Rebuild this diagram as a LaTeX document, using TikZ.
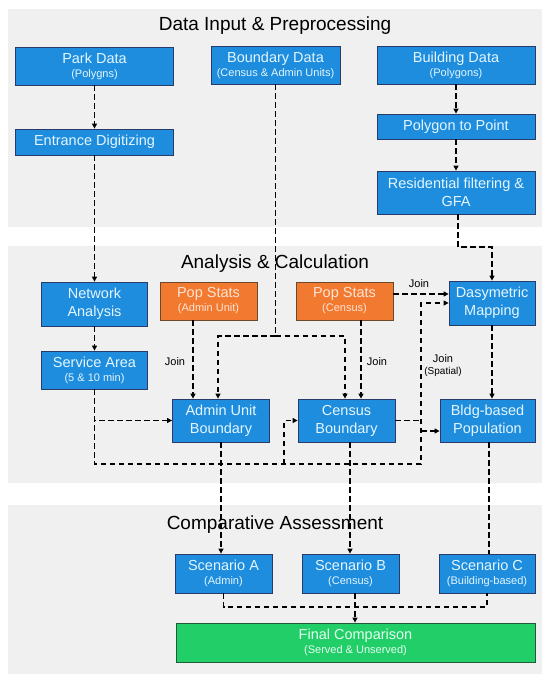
\documentclass[tikz,border=0pt]{standalone}
\usepackage{fontspec}
\setmainfont{Liberation Sans}
\usetikzlibrary{arrows.meta}
\definecolor{panelgray}{HTML}{F0F0F0}
\definecolor{boxblue}{HTML}{1E8DDE}
\definecolor{bluebd}{HTML}{2A3B6B}
\definecolor{bluetxt}{HTML}{E4F6FF}
\definecolor{boxorange}{HTML}{F27A30}
\definecolor{orangebd}{HTML}{6B4A2A}
\definecolor{orangetxt}{HTML}{FFE4D4}
\definecolor{boxgreen}{HTML}{22CE68}
\definecolor{greenbd}{HTML}{1F5A3A}
\definecolor{greentxt}{HTML}{E4FFF0}
\newcommand{\subt}[1]{{\fontsize{11}{12}\selectfont #1}}
\begin{document}
\begin{tikzpicture}[x=1pt,y=-1pt,
  panel/.style={fill=panelgray, draw=none},
  bbox/.style={draw=bluebd, fill=boxblue, line width=0.8pt, text=bluetxt, align=center, inner sep=0pt, font=\fontsize{14.5}{18}\selectfont},
  obox/.style={bbox, draw=orangebd, fill=boxorange, text=orangetxt},
  gbox/.style={bbox, draw=greenbd, fill=boxgreen, text=greentxt},
  dl/.style={draw=black, line width=1.6pt, dash pattern=on 5.5pt off 3.5pt},
  arr/.style={dl, -{Triangle[length=5pt,width=5pt]}},
  ttl/.style={font=\fontsize{19}{22}\selectfont, text=black, inner sep=0pt},
  lbl/.style={font=\fontsize{11}{13}\selectfont, text=black, inner sep=0pt, align=center}
]
\useasboundingbox (0,0) rectangle (550,683);
\fill[white] (0,0) rectangle (550,683);

% panels
\fill[panel] (8,9) rectangle (542,227);
\fill[panel] (8,246) rectangle (542,483);
\fill[panel] (8,505) rectangle (542,674);

% titles
\node[ttl] (t1) at (275,26) {Data Input \& Preprocessing};
\node[ttl] (t2) at (275,263.5) {Analysis \& Calculation};
\node[ttl] (t3) at (275,524.5) {Comparative Assessment};

% panel 1 boxes
\node[bbox, minimum width=158pt, minimum height=38pt] (park) at (94.5,66) {Park Data\\[-4pt]\subt{(Polygns)}};
\node[bbox, minimum width=129pt, minimum height=38pt] (bound) at (275.5,65) {Boundary Data\\[-4pt]\subt{(Census \& Admin Units)}};
\node[bbox, minimum width=158pt, minimum height=38pt] (bldg) at (456,65) {Building Data\\[-4pt]\subt{(Polygons)}};
\node[bbox, minimum width=158pt, minimum height=26pt] (entr) at (94.5,142) {Entrance Digitizing};
\node[bbox, minimum width=158pt, minimum height=25pt] (p2p) at (456,126.5) {Polygon to Point};
\node[bbox, minimum width=158pt, minimum height=43pt] (resid) at (456,192.5) {Residential filtering \&\\GFA};

% panel 2 boxes
\node[bbox, minimum width=106pt, minimum height=44pt] (net) at (94.5,304) {Network\\Analysis};
\node[obox, minimum width=97pt, minimum height=38pt] (psa) at (208.5,301) {Pop Stats\\[-4pt]\subt{(Admin Unit)}};
\node[obox, minimum width=97pt, minimum height=38pt] (psc) at (344.5,301) {Pop Stats\\[-4pt]\subt{(Census)}};
\node[bbox, minimum width=86pt, minimum height=44pt] (dasy) at (492,303) {Dasymetric\\Mapping};
\node[bbox, minimum width=106pt, minimum height=38pt] (serv) at (94.5,370) {Service Area\\[-4pt]\subt{(5 \& 10 min)}};
\node[bbox, minimum width=97pt, minimum height=43pt] (admin) at (221,420.5) {Admin Unit\\Boundary};
\node[bbox, minimum width=97pt, minimum height=43pt] (census) at (346.5,420.5) {Census\\Boundary};
\node[bbox, minimum width=95pt, minimum height=43pt] (bpop) at (487.5,420.5) {Bldg-based\\Population};

% panel 3 boxes
\node[bbox, minimum width=97pt, minimum height=39pt] (scA) at (223.5,573.5) {Scenario A\\[-4pt]\subt{(Admin)}};
\node[bbox, minimum width=97pt, minimum height=39pt] (scB) at (350.5,573.5) {Scenario B\\[-4pt]\subt{(Census)}};
\node[bbox, minimum width=96pt, minimum height=39pt] (scC) at (487,573.5) {Scenario C\\[-4pt]\subt{(Building-based)}};
\node[gbox, minimum width=359pt, minimum height=39pt] (final) at (355.5,642.5) {Final Comparison\\[-4pt]\subt{(Served \& Unserved)}};

% connectors panel 1
\draw[arr] (park.south) -- (entr.north);
\draw[arr] (bldg.south) -- (p2p.north);
\draw[arr] (p2p.south) -- (resid.north);
\draw[arr] (entr.south) -- (net.north);
\draw[arr] (net.south) -- (serv.north);

% boundary split
\coordinate (bj) at (275.5,336);
\draw[dl] (bound.south) -- (bj);
\draw[arr] (bj) -| ([xshift=-3pt]admin.north);
\draw[arr] (bj) -| ([xshift=-1.5pt]census.north);

% pop stats joins
\coordinate (pas) at ([xshift=-15.5pt]psa.south);
\draw[arr] (pas) -- (pas |- admin.north);
\node[lbl] (j1) at (175,362) {Join};
\coordinate (pcs) at ([xshift=16.5pt]psc.south);
\draw[arr] (pcs) -- (pcs |- census.north);
\node[lbl] (j2) at (377,362) {Join};
\coordinate (pce) at ([yshift=7pt]psc.east);
\draw[arr] (pce) -- (pce -| dasy.west);
\node[lbl] (j3) at (419,284) {Join};

% residential to dasymetric
\coordinate (rs) at ([xshift=2pt]resid.south);
\coordinate (rjy) at (0,247);
\draw[arr] (rs) -- (rs |- rjy) -| (dasy.north);
\draw[arr] (dasy.south) -- (dasy.south |- bpop.north);

% service area network
\draw[arr] (serv.south) |- (admin.west);
\coordinate (sb) at (94.5,464);
\coordinate (vx) at (421,464);
\coordinate (vt) at (421,303);
\draw[arr] (serv.south) -- (sb) -- (vx) -- (vt) -- (dasy.west);
\coordinate (cb) at (284,464);
\draw[arr] (cb) |- (census.west);
\draw[dl] (census.east) -- (census.east -| vx);
\coordinate (bw) at ([yshift=-10.5pt]bpop.west);
\draw[arr] (bw -| vx) -- (bw);
\node[lbl] (j4) at (443,366) {Join\\[-1pt]{\fontsize{10}{12}\selectfont (Spatial)}};

% to scenarios
\draw[arr] (admin.south) -- (admin.south |- scA.north);
\coordinate (cs) at ([xshift=3.5pt]census.south);
\draw[arr] (cs) -- (cs |- scB.north);
\coordinate (bps) at ([xshift=1.5pt]bpop.south);
\draw[dl] (bps) -- (bps |- scC.north);

% scenarios to final
\coordinate (sy) at (0,607);
\draw[dl] (scA.south) |- (scC.south |- sy) -- (scC.south);
\coordinate (bs) at ([xshift=4.5pt]scB.south);
\draw[arr] (bs) -- (bs |- final.north);
\end{tikzpicture}
\end{document}
